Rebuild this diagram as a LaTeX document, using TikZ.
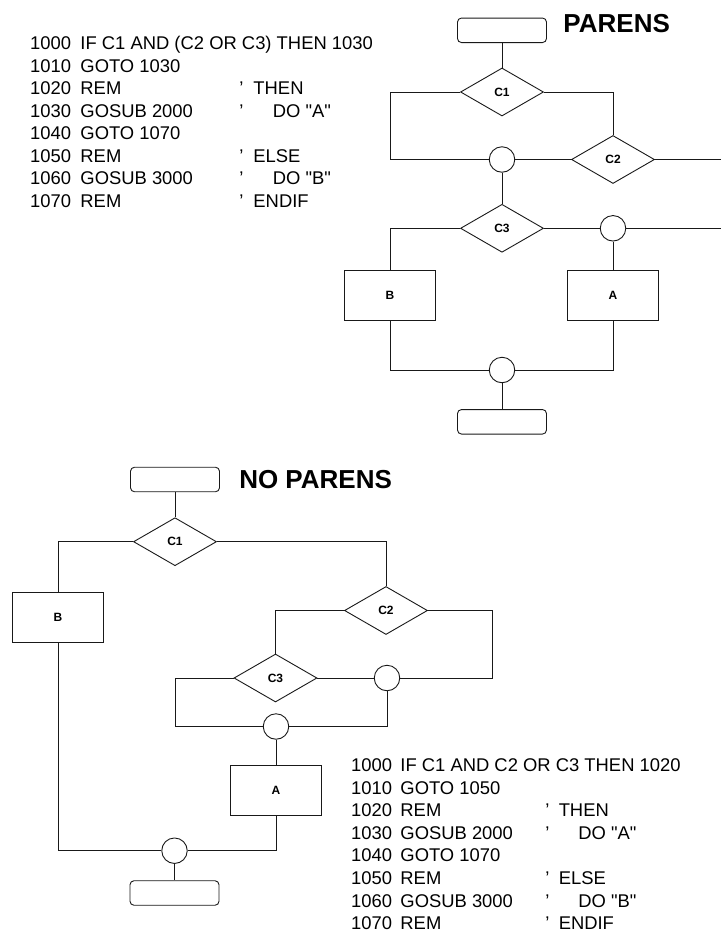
\documentclass[tikz,border=0pt]{standalone}
\usepackage{fontspec}
\setmainfont{Liberation Sans}[Ligatures=TeXOff]
\usetikzlibrary{shapes.geometric}
\tikzset{
  term/.style={draw, rectangle, rounded corners=4pt, minimum width=89pt, minimum height=24.5pt, inner sep=0pt},
  dec/.style={draw, diamond, aspect=1, minimum width=83pt, minimum height=48pt, inner sep=0pt, font=\bfseries\fontsize{12}{13}\selectfont},
  proc/.style={draw, rectangle, minimum width=91pt, minimum height=50pt, inner sep=0pt, font=\bfseries\fontsize{12}{13}\selectfont},
  junc/.style={draw, circle, minimum size=25.5pt, inner sep=0pt},
  code/.style={anchor=base west, inner sep=0pt, font=\fontsize{18.4}{22}\selectfont},
  ttl/.style={anchor=base west, inner sep=0pt, font=\bfseries\fontsize{26}{30}\selectfont}
}
\begin{document}
\begin{tikzpicture}[x=1pt, y=-1pt, line width=0.9pt, draw=black!90]
\useasboundingbox (0,0) rectangle (721,932);

% ---------------- PARENS ----------------
\node[ttl] (tp) at (563,32) {PARENS};
\node[term] (tT) at (502,30.3) {};
\node[dec] (C1t) at (502,92) {C1};
\node[junc] (j1) at (502,159.5) {};
\node[dec] (C2t) at (613,159.5) {C2};
\node[dec] (C3t) at (502,228.3) {C3};
\node[junc] (j2) at (613,228.3) {};
\node[proc] (Bt) at (390,295.7) {B};
\node[proc] (At) at (613,295.7) {A};
\node[junc] (j3) at (502,370) {};
\node[term] (tB) at (502,421.8) {};
\coordinate (eR1) at (721,159.5);
\coordinate (eR2) at (721,228.3);

\draw (tT.south) -- (C1t.north);
\draw (C1t.west) -- (C1t.west -| Bt) |- (j1.west);
\draw (C1t.east) -| (C2t.north);
\draw (C2t.west) -- (j1.east);
\draw (C2t.east) -- (eR1);
\draw (j1.south) -- (C3t.north);
\draw (C3t.west) -| (Bt.north);
\draw (C3t.east) -- (j2.west);
\draw (j2.east) -- (eR2);
\draw (j2.south) -- (At.north);
\draw (Bt.south) |- (j3.west);
\draw (At.south) |- (j3.east);
\draw (j3.south) -- (tB.north);

% code (top)
\foreach \n/\s [count=\i] in {1000/IF C1 AND (C2 OR C3) THEN 1030, 1010/GOTO 1030, 1020/REM, 1030/GOSUB 2000, 1040/GOTO 1070, 1050/REM, 1060/GOSUB 3000, 1070/REM}{
  \node[code] (tn\i) at (29.7,{49.5+22.5*(\i-1)}) {\n};
  \node[code] (ts\i) at (80,{49.5+22.5*(\i-1)}) {\s};
}
\foreach \k/\c/\x in {3/THEN/253, 4/DO "A"/272.5, 6/ELSE/253, 7/DO "B"/272.5, 8/ENDIF/253}{
  \node[code] (tq\k) at (239,{49.5+22.5*(\k-1)}) {’};
  \node[code] (tc\k) at (\x,{49.5+22.5*(\k-1)}) {\c};
}

% ---------------- NO PARENS ----------------
\node[ttl] (tn) at (238.8,488.3) {NO PARENS};
\node[term] (bT) at (175,479.5) {};
\node[dec] (C1b) at (175,541.7) {C1};
\node[proc] (Bb) at (58,617.5) {B};
\node[dec] (C2b) at (386,610.5) {C2};
\node[dec] (C3b) at (275.5,678) {C3};
\node[junc] (j4) at (387,678) {};
\node[junc] (j5) at (276,726.5) {};
\node[proc] (Ab) at (276,790.5) {A};
\node[junc] (j6) at (174.5,850.7) {};
\node[term] (bB) at (174.5,893) {};
\coordinate (k1) at (492.3,678);
\coordinate (k2) at (175.3,726.5);

\draw (bT.south) -- (C1b.north);
\draw (C1b.west) -| (Bb.north);
\draw (C1b.east) -| (C2b.north);
\draw (C2b.west) -| (C3b.north);
\draw (C2b.east) -| (k1) -- (j4.east);
\draw (C3b.east) -- (j4.west);
\draw (C3b.west) -| (k2) -- (j5.west);
\draw (j4.south) |- (j5.east);
\draw (j5.south) -- (Ab.north);
\draw (Bb.south) |- (j6.west);
\draw (Ab.south) |- (j6.east);
\draw (j6.south) -- (bB.north);

% code (bottom)
\foreach \n/\s [count=\i] in {1000/IF C1 AND C2 OR C3 THEN 1020, 1010/GOTO 1050, 1020/REM, 1030/GOSUB 2000, 1040/GOTO 1070, 1050/REM, 1060/GOSUB 3000, 1070/REM}{
  \node[code] (bn\i) at (350.7,{771.5+22.6*(\i-1)}) {\n};
  \node[code] (bs\i) at (400,{771.5+22.6*(\i-1)}) {\s};
}
\foreach \k/\c/\x in {3/THEN/558.3, 4/DO "A"/578, 6/ELSE/558.3, 7/DO "B"/578, 8/ENDIF/558.3}{
  \node[code] (bq\k) at (545,{771.5+22.6*(\k-1)}) {’};
  \node[code] (bc\k) at (\x,{771.5+22.6*(\k-1)}) {\c};
}
\end{tikzpicture}
\end{document}
